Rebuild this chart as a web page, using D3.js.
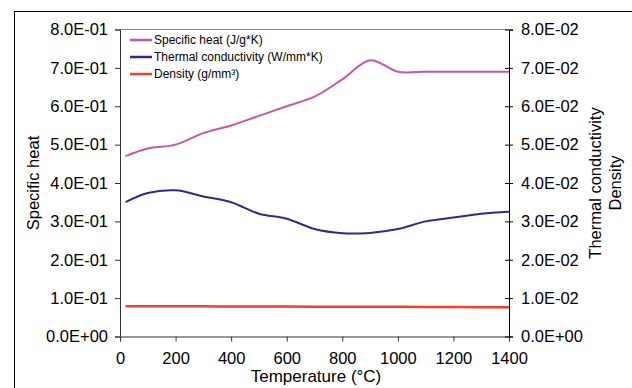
<!DOCTYPE html>
<html>
<head>
<meta charset="utf-8">
<script src="https://cdn.jsdelivr.net/npm/d3@7"></script>
<style>
  body { margin: 0; background: #fff; }
  svg { display: block; font-family: "Liberation Sans", Arial, sans-serif; }
</style>
</head>
<body>
<div id="root"><svg width="632" height="388"></svg></div>
<script>
const temps = [20, 100, 200, 300, 400, 500, 600, 700, 800, 900, 1000, 1100, 1200, 1300, 1400];
const specificHeat = [0.47, 0.49, 0.50, 0.53, 0.55, 0.575, 0.60, 0.625, 0.67, 0.72, 0.69, 0.69, 0.69, 0.69, 0.69];
const thermalCond = [0.035, 0.0374, 0.0381, 0.0365, 0.035, 0.032, 0.0307, 0.028, 0.0269, 0.027, 0.028, 0.030, 0.031, 0.032, 0.0325];
const density = [0.0079, 0.00789, 0.00788, 0.00786, 0.00784, 0.00782, 0.0078, 0.00778, 0.00776, 0.00774, 0.00772, 0.0077, 0.00767, 0.00765, 0.00762];
const xTicks = [0, 200, 400, 600, 800, 1000, 1200, 1400];
const leftTicks = [0, 0.1, 0.2, 0.3, 0.4, 0.5, 0.6, 0.7, 0.8];
const rightTicks = [0, 0.01, 0.02, 0.03, 0.04, 0.05, 0.06, 0.07, 0.08];
const seriesNames = ['Specific heat (J/g*K)', 'Thermal conductivity (W/mm*K)', 'Density (g/mm³)'];
const seriesColors = ['#c855a8', '#2e2a8e', '#ee4426'];

const plotLeft = 120, plotRight = 509, plotTop = 29.5, plotBottom = 336.5;
const svg = d3.select('#root svg');

const x = d3.scaleLinear().domain([0, 1400]).range([plotLeft, plotRight]);
const yL = d3.scaleLinear().domain([0, 0.8]).range([plotBottom, plotTop]);
const yR = d3.scaleLinear().domain([0, 0.08]).range([plotBottom, plotTop]);

// outer frame (clipped by the window)
svg.append('rect')
  .attr('x', 14.5).attr('y', 11.5)
  .attr('width', 700).attr('height', 500)
  .attr('fill', 'none').attr('stroke', '#000').attr('stroke-width', 1);

// top border of plot
svg.append('line')
  .attr('x1', plotLeft).attr('x2', plotRight).attr('y1', plotTop).attr('y2', plotTop)
  .attr('stroke', '#888');

const fmtE = (d) => {
  const s = d3.format('.1e')(d).toUpperCase();
  return s.replace(/E([+-])(\d)$/, 'E$10$2');
};

const xAxis = d3.axisBottom(x).tickValues(xTicks).tickSize(5).tickPadding(11).tickFormat(d3.format('d'));
svg.append('g')
  .attr('transform', `translate(0 ${plotBottom})`)
  .call(xAxis)
  .call(g => g.select('.domain').attr('stroke', '#333'))
  .call(g => g.selectAll('.tick line').attr('stroke', '#333'))
  .call(g => g.selectAll('.tick text').attr('font-size', '16.5px').attr('fill', '#000'));

const yAxisL = d3.axisLeft(yL).tickValues(leftTicks).tickSize(5).tickPadding(7).tickFormat(fmtE);
svg.append('g')
  .attr('transform', `translate(${plotLeft} 0)`)
  .call(yAxisL)
  .call(g => g.select('.domain').attr('stroke', '#333'))
  .call(g => g.selectAll('.tick line').attr('stroke', '#333'))
  .call(g => g.selectAll('.tick text').attr('font-size', '16.5px').attr('fill', '#000'));

const yAxisR = d3.axisRight(yR).tickValues(rightTicks).tickSize(4).tickPadding(8).tickFormat(fmtE);
svg.append('g')
  .attr('transform', `translate(${plotRight} 0)`)
  .call(yAxisR)
  .call(g => g.select('.domain').attr('stroke', '#000'))
  .call(g => g.selectAll('.tick line').attr('x1', -4).attr('stroke', '#000'))
  .call(g => g.selectAll('.tick text').attr('font-size', '16.5px').attr('fill', '#000'));

// axis titles
svg.append('text')
  .attr('x', 316).attr('y', 382)
  .attr('text-anchor', 'middle').attr('font-size', '17px')
  .text('Temperature (°C)');
svg.append('text')
  .attr('transform', `translate(39 ${(plotTop + plotBottom) / 2}) rotate(-90)`)
  .attr('text-anchor', 'middle').attr('font-size', '16.5px')
  .text('Specific heat');
svg.append('text')
  .attr('transform', `translate(601 ${(plotTop + plotBottom) / 2}) rotate(-90)`)
  .attr('text-anchor', 'middle').attr('font-size', '16.5px')
  .text('Thermal conductivity');
svg.append('text')
  .attr('transform', `translate(621 ${(plotTop + plotBottom) / 2}) rotate(-90)`)
  .attr('text-anchor', 'middle').attr('font-size', '16.5px')
  .text('Density');

// series
const series = [
  { values: specificHeat, scale: yL },
  { values: thermalCond, scale: yR },
  { values: density, scale: yR }
];

series.forEach((s, i) => {
  const line = d3.line()
    .x((d, j) => x(temps[j]))
    .y((d) => s.scale(d))
    .curve(d3.curveCatmullRom.alpha(0.5));
  svg.append('path')
    .datum(s.values)
    .attr('d', line)
    .attr('fill', 'none')
    .attr('stroke', seriesColors[i])
    .attr('stroke-width', i === 2 ? 2.5 : 2);
});

// legend
const legend = svg.append('g').attr('transform', 'translate(130 40)');
seriesNames.forEach((name, i) => {
  const row = legend.append('g').attr('transform', `translate(0 ${i * 17})`);
  row.append('line')
    .attr('x1', 0).attr('x2', 22)
    .attr('stroke', seriesColors[i]).attr('stroke-width', 2.5);
  row.append('text')
    .attr('x', 24).attr('y', 4)
    .attr('font-size', '12px')
    .text(name);
});
</script>
</body>
</html>
